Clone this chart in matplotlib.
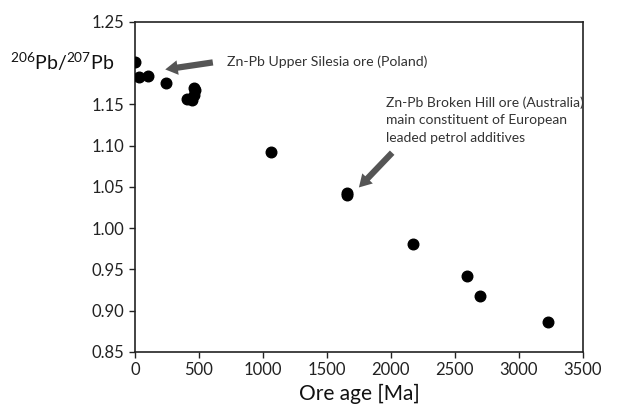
import matplotlib
matplotlib.use("Agg")
import matplotlib.pyplot as plt

# ------------------------------------------------------------------
# Data
# ------------------------------------------------------------------
ore_age = [0, 30, 105, 245, 410, 445, 460, 462, 470, 1060, 1658, 1660, 2170, 2597, 2697, 3231]
pb_ratio = [1.201, 1.183, 1.184, 1.176, 1.157, 1.156, 1.162, 1.170, 1.167, 1.092,
            1.043, 1.040, 0.981, 0.942, 0.918, 0.886]

x_ticks = [0, 500, 1000, 1500, 2000, 2500, 3000, 3500]
# 1.20 is hidden behind the axis label in the original
y_ticks = [0.85, 0.90, 0.95, 1.00, 1.05, 1.10, 1.15, 1.25]

plt.rcParams["font.family"] = ["Lato", "DejaVu Sans"]
plt.rcParams["mathtext.fontset"] = "custom"
plt.rcParams["mathtext.rm"] = "Lato"

fig = plt.figure(figsize=(6.24, 4.08), dpi=100)
ax = fig.add_axes([0.2163, 0.1373, 0.7177, 0.8088])

ax.scatter(ore_age, pb_ratio, s=58, color="black", zorder=3)

ax.set_xlim(0, 3500)
ax.set_ylim(0.85, 1.25)
ax.set_xticks(x_ticks)
ax.set_yticks(y_ticks)
ax.set_yticklabels([f"{v:.2f}" for v in y_ticks])
ax.tick_params(direction="out", length=4, width=1, labelsize=12, colors="#222222")
for sp in ax.spines.values():
    sp.set_linewidth(1.2)
    sp.set_color("#222222")

ax.set_xlabel("Ore age [Ma]", fontsize=15, labelpad=4, color="#111111")
fig.text(0.016, 1 - 62 / 408, r"$\mathregular{^{206}}$Pb/$\mathregular{^{207}}$Pb",
         fontsize=14, va="center", ha="left", color="#111111")

arrow_kw = dict(arrowstyle="simple,head_width=1.05,head_length=0.9,tail_width=0.45",
                color="#555555", lw=0)
ax.annotate("", xy=(215, 1.192), xytext=(630, 1.2015), arrowprops=arrow_kw)
ax.text(720, 1.2015, "Zn-Pb Upper Silesia ore (Poland)", fontsize=10.2,
        va="center", ha="left", color="#333333")

ax.annotate("", xy=(1735, 1.047), xytext=(2025, 1.094), arrowprops=arrow_kw)
ax.text(1965, 1.131, "Zn-Pb Broken Hill ore (Australia)\nmain constituent of European\nleaded petrol additives",
        fontsize=10, va="center", ha="left", color="#333333", linespacing=1.55)

fig.savefig("out.png", dpi=100)
